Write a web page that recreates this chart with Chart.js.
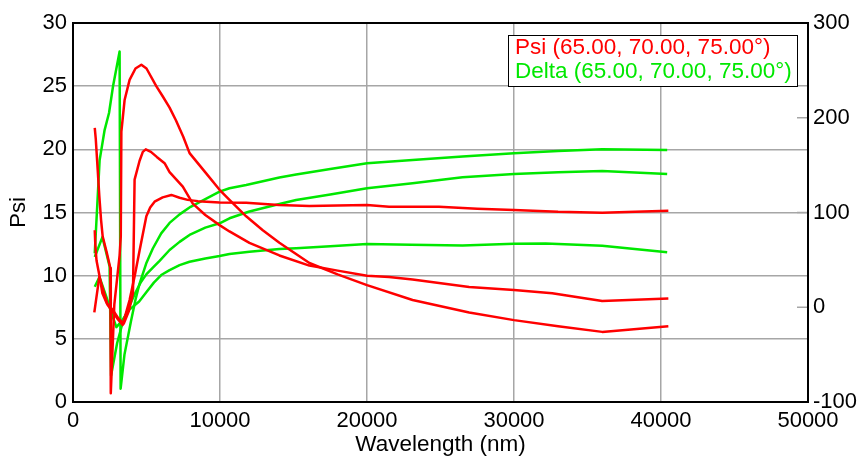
<!DOCTYPE html>
<html>
<head>
<meta charset="utf-8">
<title>Psi / Delta</title>
<script src="https://cdn.jsdelivr.net/npm/chart.js@4.4.1/dist/chart.umd.min.js"></script>
<style>
  html, body { margin: 0; padding: 0; background: #fff; }
  #wrap { width: 858px; height: 458px; }
</style>
</head>
<body>
<div id="wrap"><canvas id="c" width="858" height="458"></canvas></div>
<script>
// x ticks / axis ranges
var xTicks = [0, 10000, 20000, 30000, 40000, 50000];
var psiTicks = [0, 5, 10, 15, 20, 25, 30];
var deltaTicks = [-100, 0, 100, 200, 300];

// Psi curves (wavelength nm, value)
var psi1Wl = [1480,1550,1680,1790,1910,2020,2300,2540,2570,2810,3170,3250,3290,3510,3850,4250,4650,5000,5665,6100,6570,7000,7500,7930,9060,9970,10645,11780,12910,14040,16080,18000,20000,23100,26950,30000,33000,36000,40500];
var psi1 = [21.7,20.8,18.4,16.3,14.4,13.1,11.8,10.6,0.7,7.7,11.6,13.1,21.4,23.9,25.5,26.4,26.7,26.4,25.0,24.2,23.3,22.3,21.0,19.7,18.1,16.8,16.0,14.7,13.6,12.6,11.0,10.1,9.25,8.07,7.09,6.48,6.0,5.55,6.0];

var psi2Wl = [1480,1520,1600,1800,2000,2300,2700,3100,3450,3800,4080,4190,4530,4750,4950,5300,5700,6230,6570,7470,8150,9000,9970,10645,12000,14040,16080,18000,20000,21500,23100,26950,30000,32600,36000,40500];
var psi2 = [13.6,12.4,11.2,10.0,8.6,7.8,7.3,6.6,6.2,7.2,8.6,17.6,19.1,19.8,20.0,19.8,19.4,18.9,18.2,17.05,15.7,14.8,14.0,13.5,12.6,11.6,10.8,10.4,10.0,9.9,9.7,9.1,8.86,8.6,8.0,8.2];

var psi3Wl = [1450,1790,2350,3020,3380,3850,4200,4530,4990,5250,5550,6100,6690,7250,7800,8500,9970,11780,14000,16080,18000,20000,21500,24900,27500,30000,33000,36000,40500];
var psi3 = [7.1,9.9,7.7,6.6,6.1,8.07,10.0,12.0,14.7,15.4,15.86,16.2,16.39,16.17,16.0,15.9,15.8,15.78,15.6,15.51,15.55,15.59,15.46,15.46,15.3,15.2,15.05,14.98,15.14];

// Delta curves
var delta1Wl = [1480,1810,2150,2450,2720,3170,3240,3500,3940,4250,4530,5000,5430,6000,6570,7250,8000,9000,9970,10645,11780,14040,15177,17500,20000,23100,26500,30000,33000,36000,40420];
var delta1 = [57,155,187,205,233,270,-86,-50,-15,8,25,47,62,78,89,98,106,114,122,125.6,129,137,140,146,152,155.5,159,162.5,165,166.8,166];

var delta2Wl = [1480,2000,2270,2490,2590,3000,3400,3800,4200,4600,5000,5450,5890,6570,7250,8000,9000,9970,10645,12000,14040,15177,17500,20000,23100,26500,30000,33000,36000,40420];
var delta2 = [53,74,57,43,-72,-38,-15,0,14,26,35,42,49,60.4,69,77,84,88.6,93.9,101,109,113.2,119,125.6,130.9,137.2,140.7,142.5,143.8,140.7];

var delta3Wl = [1480,1800,2270,2700,2950,3300,3800,4500,5000,5500,6000,6570,7250,7930,9000,9970,10645,12000,14040,15177,17500,20000,23000,26500,30000,32160,36000,40420];
var delta3 = [21.6,32,11,-10,-21,-15,-3,6,16,26,34,39.2,44.5,48,51.5,54,56.2,58.5,61.4,62.2,64.5,66.7,66,65.3,67,67.4,64.9,58];

var legendLines = ["Psi (65.00, 70.00, 75.00\u00b0)", "Delta (65.00, 70.00, 75.00\u00b0)"];

var RED = "#ff0000", GREEN = "#00e800";
var FONT = "'Liberation Sans', Arial, sans-serif";

function pts(xs, ys) {
  return xs.map(function(x, i) { return { x: x, y: ys[i] }; });
}

function line(xs, ys, color, axis) {
  return {
    data: pts(xs, ys),
    borderColor: color,
    borderWidth: 2.5,
    borderJoinStyle: "round",
    pointRadius: 0,
    fill: false,
    tension: 0,
    yAxisID: axis
  };
}

var framePlugin = {
  id: "frame",
  afterDraw: function(chart) {
    var ctx = chart.ctx, a = chart.chartArea;
    ctx.save();
    // right axis inward ticks
    var y2 = chart.scales.y2;
    ctx.strokeStyle = "#a6a6a6";
    ctx.lineWidth = 1.5;
    deltaTicks.forEach(function(v) {
      var py = y2.getPixelForValue(v);
      ctx.beginPath();
      ctx.moveTo(a.right - 11, py);
      ctx.lineTo(a.right, py);
      ctx.stroke();
    });
    // frame
    ctx.strokeStyle = "#000";
    ctx.lineWidth = 2;
    ctx.strokeRect(a.left, a.top, a.right - a.left, a.bottom - a.top);
    // legend box
    var bx = 508, by = 35, bw = 289, bh = 51;
    ctx.fillStyle = "#fff";
    ctx.fillRect(bx, by, bw, bh);
    ctx.lineWidth = 1;
    ctx.strokeStyle = "#000";
    ctx.strokeRect(bx + 0.5, by + 0.5, bw, bh);
    ctx.font = "22.5px " + FONT;
    ctx.textBaseline = "middle";
    ctx.textAlign = "left";
    ctx.fillStyle = RED;
    ctx.fillText(legendLines[0], bx + 7, by + 13);
    ctx.fillStyle = GREEN;
    ctx.fillText(legendLines[1], bx + 7, by + 37);
    ctx.restore();
  }
};

new Chart(document.getElementById("c"), {
  type: "line",
  data: {
    datasets: [
      line(psi1Wl, psi1, RED, "y"),
      line(psi2Wl, psi2, RED, "y"),
      line(psi3Wl, psi3, RED, "y"),
      line(delta1Wl, delta1, GREEN, "y2"),
      line(delta2Wl, delta2, GREEN, "y2"),
      line(delta3Wl, delta3, GREEN, "y2")
    ]
  },
  options: {
    responsive: false,
    animation: false,
    events: [],
    layout: { padding: { top: 23, left: 0, right: 0, bottom: 0 } },
    plugins: { legend: { display: false }, tooltip: { enabled: false } },
    scales: {
      x: {
        type: "linear",
        min: xTicks[0], max: xTicks[xTicks.length - 1],
        afterBuildTicks: function(s) { s.ticks = xTicks.map(function(v) { return { value: v }; }); },
        afterFit: function(s) { s.height = 56; },
        grid: { color: "#a6a6a6", lineWidth: 1.5, drawTicks: false },
        border: { display: false },
        ticks: { color: "#000", font: { family: FONT, size: 22 }, padding: 6, maxRotation: 0,
                 callback: function(v) { return String(v); } },
        title: { display: true, text: "Wavelength (nm)", color: "#000",
                 font: { family: FONT, size: 22.5 }, padding: { top: 0, bottom: 0 } }
      },
      y: {
        position: "left",
        min: psiTicks[0], max: psiTicks[psiTicks.length - 1],
        afterBuildTicks: function(s) { s.ticks = psiTicks.map(function(v) { return { value: v }; }); },
        afterFit: function(s) { s.width = 73; },
        grid: { color: "#a6a6a6", lineWidth: 1.5, drawTicks: false },
        border: { display: false },
        ticks: { color: "#000", font: { family: FONT, size: 22 }, padding: 6 },
        title: { display: true, text: "Psi", color: "#000",
                 font: { family: FONT, size: 22 }, padding: { top: 6, bottom: 0 } }
      },
      y2: {
        position: "right",
        min: deltaTicks[0], max: deltaTicks[deltaTicks.length - 1],
        afterBuildTicks: function(s) { s.ticks = deltaTicks.map(function(v) { return { value: v }; }); },
        afterFit: function(s) { s.width = 50; },
        grid: { drawOnChartArea: false, drawTicks: false },
        border: { display: false },
        ticks: { color: "#000", font: { family: FONT, size: 22 }, padding: 5 }
      }
    }
  },
  plugins: [framePlugin]
});
</script>
</body>
</html>
